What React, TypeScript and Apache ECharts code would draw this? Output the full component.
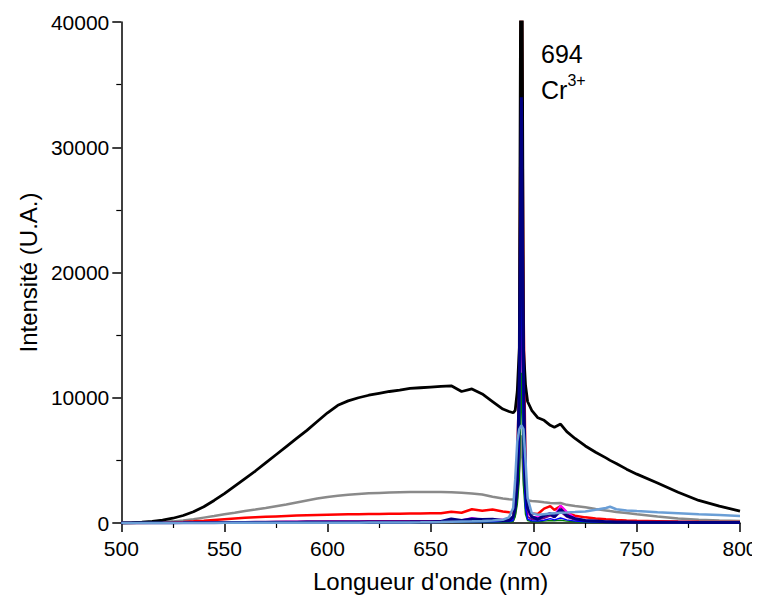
import React, { useEffect, useRef } from "react";
import * as echarts from "echarts";

const wavelengths = [
  500, 505, 510, 515, 520, 525, 530, 535, 540, 545,
  550, 555, 560, 565, 570, 575, 580, 585, 590, 595,
  600, 605, 610, 615, 620, 625, 630, 635, 640, 645,
  650, 655, 660, 665, 670, 675, 680, 685, 688, 690,
  691, 692, 693, 694, 695, 696, 697, 699, 702, 705,
  708, 710, 713, 716, 720, 725, 730, 735, 737, 740,
  745, 750, 760, 770, 780, 790, 800,
];

const blackSeries = [
  0, 20, 60, 120, 220, 380, 600, 900, 1300, 1800,
  2350, 2950, 3550, 4150, 4800, 5450, 6100, 6750, 7400, 8100,
  8800, 9400, 9750, 10000, 10200, 10350, 10500, 10600, 10750, 10800,
  10850, 10900, 10950, 10500, 10700, 10300, 9700, 9100, 8900, 8800,
  9000, 10500, 14000, 60000, 14000, 11000, 9700, 9000, 8400, 8200,
  7800, 7650, 7900, 7300, 6750, 6150, 5650, 5200, 5000, 4750,
  4300, 3900, 3200, 2450, 1800, 1350, 950,
];
const graySeries = [
  0, 10, 30, 50, 80, 130, 200, 300, 430, 560,
  700, 820, 950, 1070, 1200, 1340, 1480, 1640, 1800, 1950,
  2080, 2170, 2250, 2320, 2370, 2400, 2430, 2450, 2470, 2480,
  2480, 2480, 2450, 2420, 2360, 2280, 2100, 1950, 1900, 1880,
  1900, 2500, 4500, 7000, 3500, 2000, 1800, 1760, 1720, 1650,
  1600, 1580, 1600, 1450, 1350, 1250, 1120, 1000, 950, 880,
  800, 700, 520, 360, 260, 200, 160,
];
const redSeries = [
  0, 0, 0, 10, 20, 45, 80, 130, 180, 240,
  300, 360, 410, 450, 490, 525, 560, 590, 620, 640,
  660, 675, 690, 700, 710, 720, 730, 740, 750, 760,
  770, 780, 900, 820, 1100, 980, 1080, 920, 850, 840,
  1000, 5000, 12000, 50000, 18000, 4000, 1000, 750, 720, 1150,
  1350, 1050, 1350, 800, 580, 450, 360, 290, 270, 240,
  200, 170, 140, 110, 90, 80, 70,
];
const magentaSeries = [
  0, 0, 0, 0, 0, 5, 10, 15, 20, 30,
  40, 50, 60, 70, 80, 85, 90, 95, 100, 105,
  110, 112, 115, 118, 120, 122, 125, 128, 130, 135,
  140, 150, 160, 220, 400, 260, 250, 270, 280, 300,
  900, 2500, 6000, 25000, 5000, 2000, 800, 500, 450, 520,
  800, 600, 1400, 900, 400, 200, 120, 90, 80, 70,
  60, 55, 50, 45, 40, 40, 40,
];
const purpleSeries = [
  0, 0, 0, 0, 0, 5, 10, 20, 30, 40,
  50, 65, 80, 90, 100, 110, 120, 125, 130, 135,
  140, 142, 145, 148, 150, 150, 150, 150, 150, 152,
  155, 160, 170, 200, 300, 220, 200, 190, 180, 200,
  700, 2000, 5500, 22000, 4500, 1500, 500, 300, 280, 400,
  600, 450, 900, 500, 250, 150, 100, 80, 70, 60,
  50, 50, 40, 35, 30, 30, 30,
];
const greenSeries = [
  0, 0, 0, 0, 0, 0, 0, 0, 0, 3,
  5, 8, 10, 12, 15, 18, 20, 22, 25, 28,
  30, 32, 35, 38, 40, 40, 40, 42, 45, 48,
  50, 50, 55, 60, 70, 70, 70, 75, 80, 120,
  500, 1500, 3500, 12000, 3000, 700, 200, 120, 100, 150,
  200, 180, 220, 150, 100, 60, 40, 30, 25, 20,
  15, 10, 5, 0, 0, 0, 0,
];
const blueSeries = [
  0, 0, 0, 0, 0, 0, 0, 2, 5, 8,
  10, 12, 15, 18, 20, 22, 25, 28, 30, 32,
  35, 38, 40, 42, 45, 48, 50, 52, 55, 58,
  60, 65, 80, 90, 120, 100, 100, 110, 120, 200,
  1500, 3000, 6000, 22000, 5000, 1200, 300, 180, 150, 220,
  350, 250, 400, 250, 150, 100, 70, 50, 45, 40,
  35, 30, 25, 20, 20, 15, 15,
];
const navySeries = [
  0, 0, 0, 0, 5, 8, 10, 15, 20, 25,
  30, 32, 35, 38, 40, 42, 45, 48, 50, 52,
  55, 58, 60, 60, 60, 62, 65, 68, 70, 75,
  80, 120, 320, 200, 320, 280, 300, 200, 220, 500,
  1200, 3000, 12000, 34000, 12000, 3000, 1200, 500, 300, 600,
  750, 500, 1100, 600, 350, 200, 150, 100, 95, 80,
  70, 60, 55, 50, 45, 40, 40,
];
const lightBlueSeries = [
  0, 0, 0, 0, 0, 0, 0, 2, 5, 8,
  10, 12, 15, 15, 15, 18, 20, 20, 20, 20,
  20, 22, 25, 28, 30, 32, 35, 40, 45, 52,
  60, 70, 90, 110, 130, 160, 200, 260, 450, 1200,
  3500, 6500, 7500, 7800, 7500, 5000, 2000, 800, 650, 700,
  750, 780, 820, 840, 870, 920, 1050, 1200, 1300, 1100,
  1000, 950, 860, 780, 700, 630, 560,
];

const seriesDefs = [
  { name: "gris", values: graySeries, color: "#8a8a8a", width: 2.5 },
  { name: "rouge", values: redSeries, color: "#ff0000", width: 2.5 },
  { name: "noir", values: blackSeries, color: "#000000", width: 2.8 },
  { name: "magenta", values: magentaSeries, color: "#ff00ff", width: 2 },
  { name: "violet", values: purpleSeries, color: "#800080", width: 2 },
  { name: "vert", values: greenSeries, color: "#008000", width: 1.5 },
  { name: "bleu", values: blueSeries, color: "#0000ff", width: 1.5 },
  { name: "marine", values: navySeries, color: "#000080", width: 3 },
  { name: "bleu clair", values: lightBlueSeries, color: "#6a9ed6", width: 2.5 },
];

const yTicks = [0, 10000, 20000, 30000, 40000];
const xTicks = [500, 550, 600, 650, 700, 750, 800];

export default function App() {
  const ref = useRef<HTMLDivElement>(null);
  useEffect(() => {
    if (!ref.current) return;
    const chart = echarts.init(ref.current, undefined, { renderer: "svg" });
    const font = "Liberation Sans, Arial, sans-serif";
    chart.setOption({
      animation: false,
      backgroundColor: "#ffffff",
      grid: { left: 110, right: 28, top: 14, bottom: 88, containLabel: false },
      xAxis: {
        type: "value",
        min: xTicks[0],
        max: xTicks[xTicks.length - 1],
        interval: 50,
        name: "Longueur d'onde (nm)",
        nameLocation: "middle",
        nameGap: 46,
        nameTextStyle: { fontSize: 24, color: "#000", fontFamily: font },
        axisLine: { lineStyle: { color: "#000", width: 1.5 } },
        axisTick: { length: 9, lineStyle: { color: "#000", width: 1.5 } },
        minorTick: { show: true, splitNumber: 2, length: 5, lineStyle: { color: "#000", width: 1.2 } },
        splitLine: { show: false },
        axisLabel: { fontSize: 21, color: "#000", fontFamily: font, margin: 15, formatter: (v: number) => String(v) },
      },
      yAxis: {
        type: "value",
        min: yTicks[0],
        max: yTicks[yTicks.length - 1],
        interval: 10000,
        name: "Intensité (U.A.)",
        nameLocation: "middle",
        nameGap: 68,
        nameTextStyle: { fontSize: 24, color: "#000", fontFamily: font },
        axisLine: { show: true, lineStyle: { color: "#000", width: 1.5 } },
        axisTick: { show: true, length: 9, lineStyle: { color: "#000", width: 1.5 } },
        minorTick: { show: true, splitNumber: 2, length: 5, lineStyle: { color: "#000", width: 1.2 } },
        splitLine: { show: false },
        axisLabel: { fontSize: 21, color: "#000", fontFamily: font, margin: 12, formatter: (v: number) => String(v) },
      },
      series: seriesDefs.map((s) => ({
        name: s.name,
        type: "line",
        data: wavelengths.map((w, i) => [w, s.values[i]]),
        showSymbol: false,
        symbol: "none",
        clip: true,
        lineStyle: { color: s.color, width: s.width },
        itemStyle: { color: s.color },
      })),
      graphic: [
        { type: "text", left: 533, top: 33, style: { text: "694", fontSize: 25, fill: "#000", fontFamily: font } },
        {
          type: "text",
          left: 533,
          top: 64,
          style: {
            text: "{a|Cr}{b|3+}",
            fill: "#000",
            fontFamily: font,
            rich: {
              a: { fontSize: 25, fontFamily: font, fill: "#000", lineHeight: 30, verticalAlign: "bottom" },
              b: { fontSize: 16, fontFamily: font, fill: "#000", lineHeight: 30, verticalAlign: "top" },
            },
          },
        },
      ],
    });
    return () => chart.dispose();
  }, []);
  return <div ref={ref} style={{ width: 760, height: 603 }} />;
}
